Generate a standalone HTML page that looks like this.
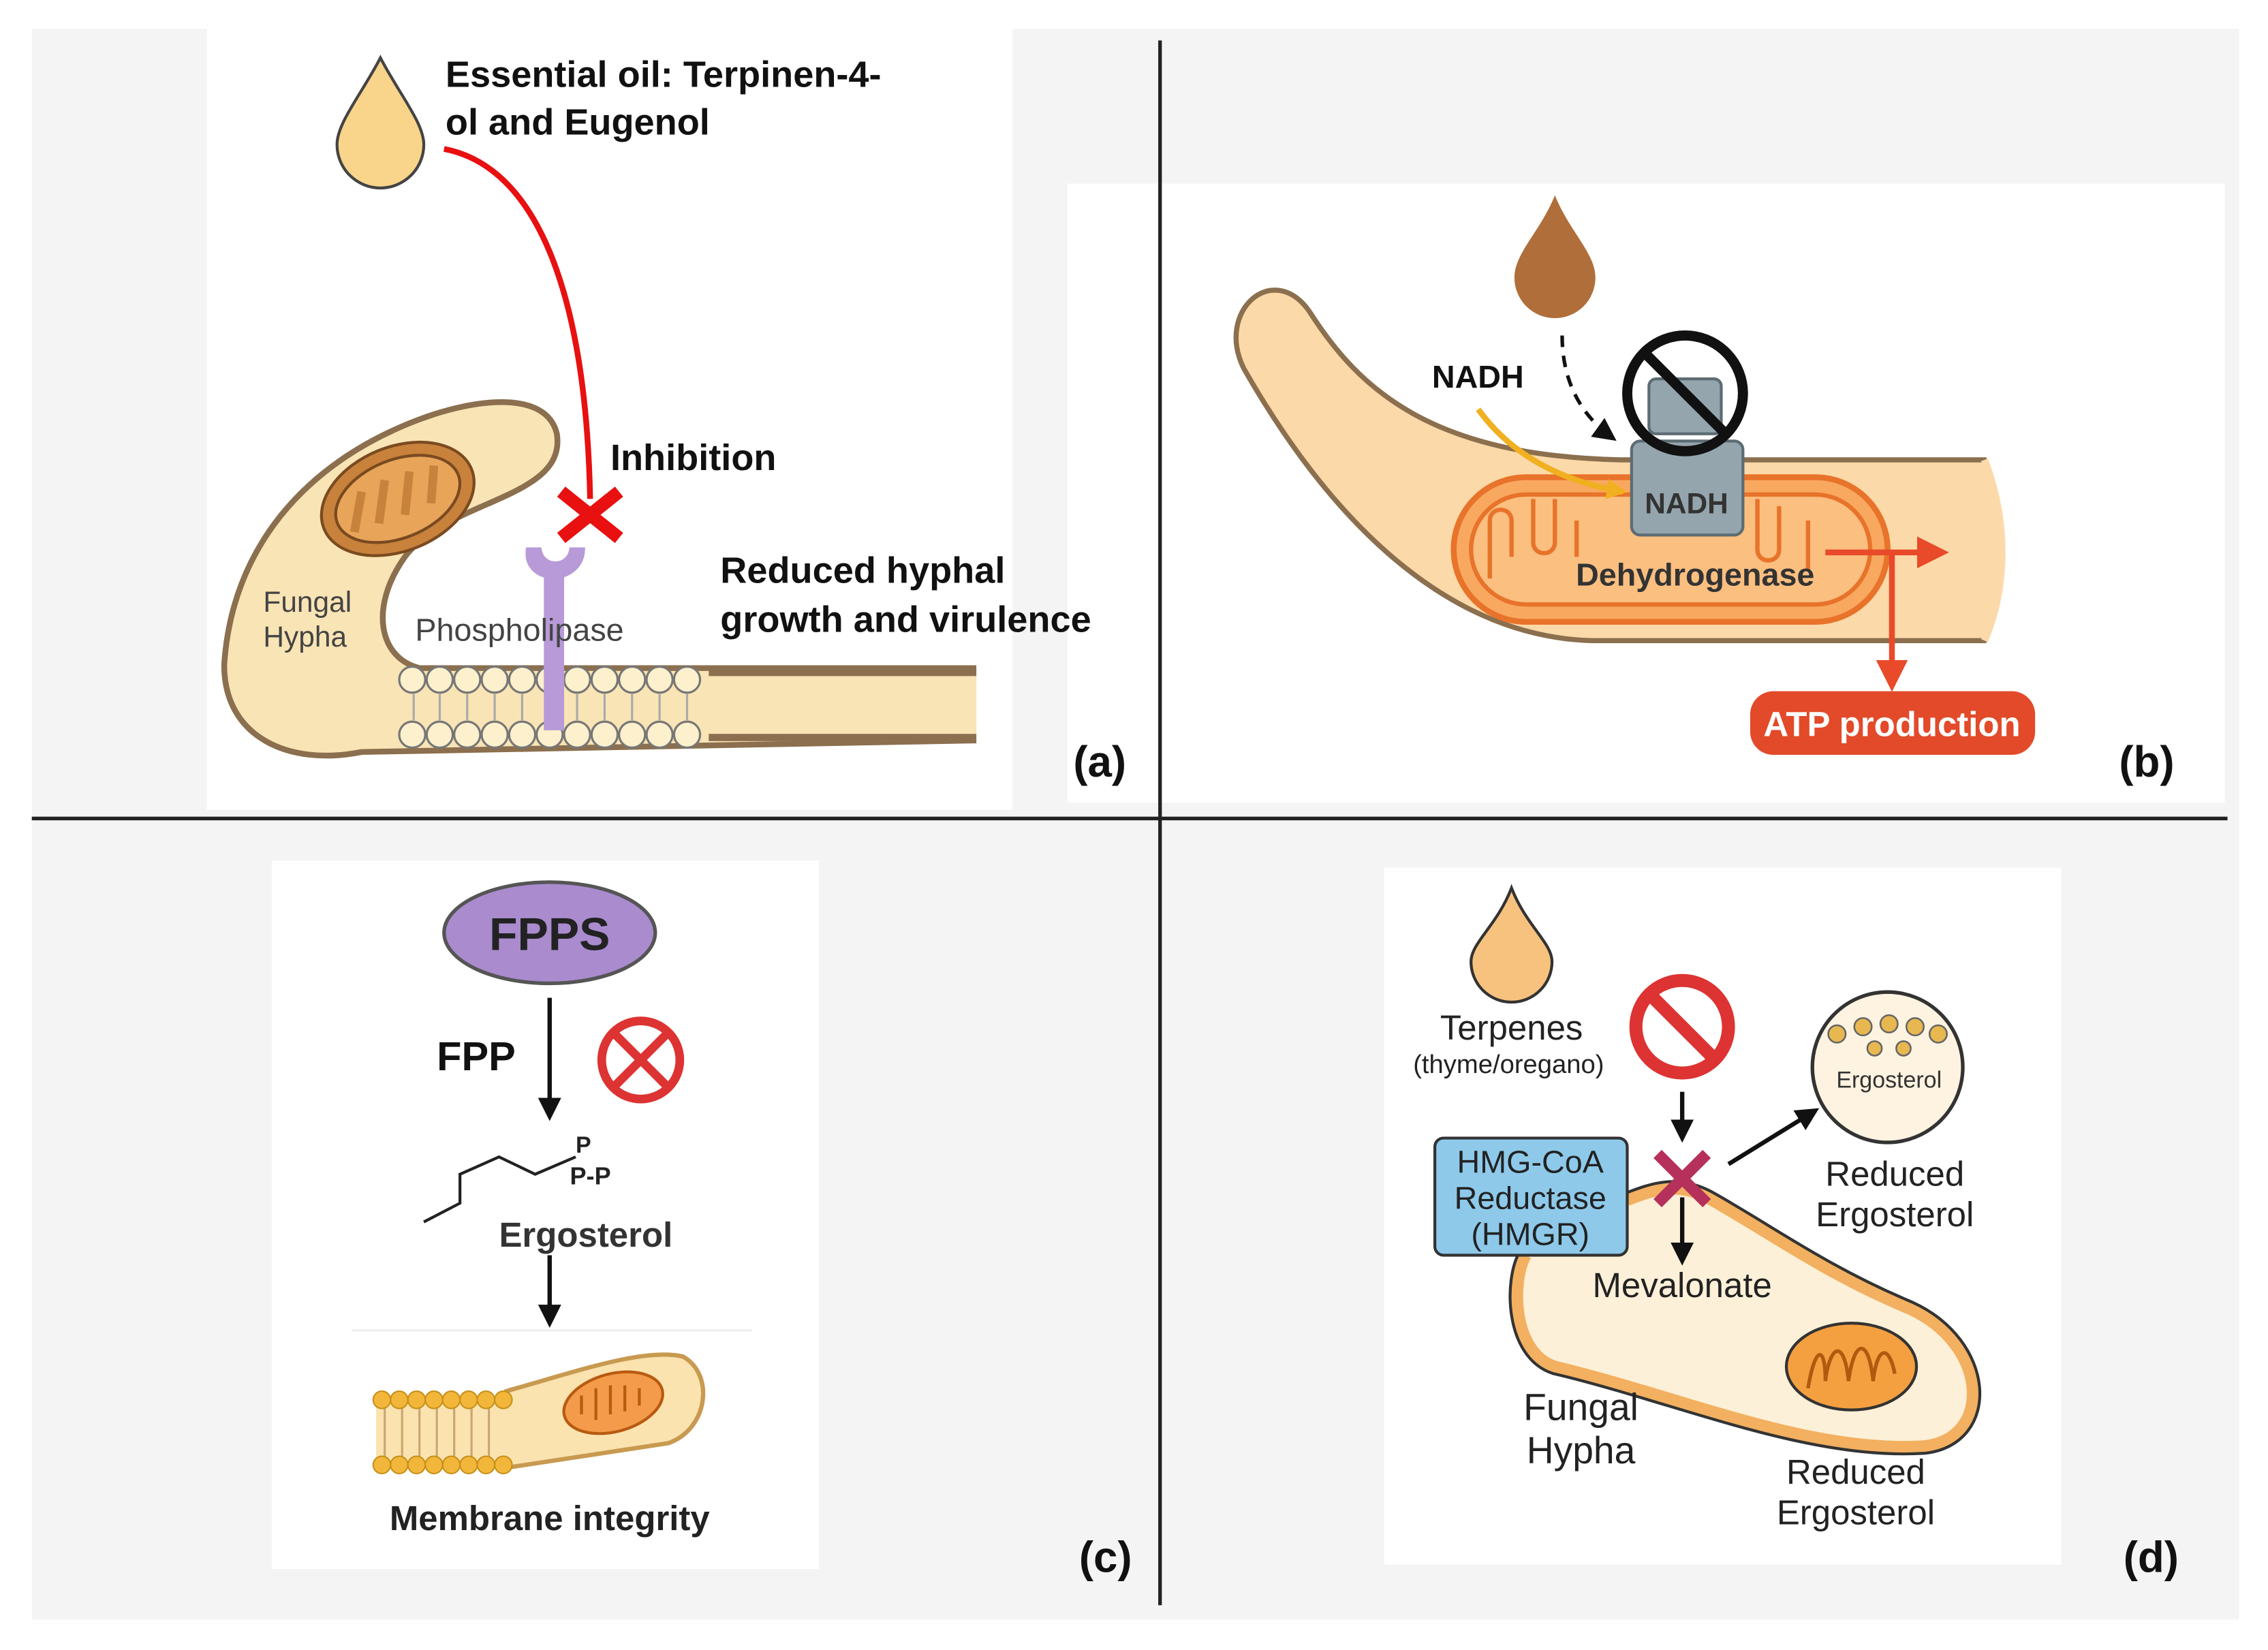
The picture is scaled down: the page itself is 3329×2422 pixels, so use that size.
<!DOCTYPE html>
<html><head><meta charset="utf-8"><style>
html,body{margin:0;padding:0;background:#fff}
svg{display:block}
text{font-family:"Liberation Sans",sans-serif}
</style></head><body>
<svg width="3329" height="2422" viewBox="0 0 1568 1141" preserveAspectRatio="none" xmlns="http://www.w3.org/2000/svg">
<defs>
<marker id="abk" viewBox="0 0 10 10" markerWidth="16" markerHeight="16" refX="8" refY="5" orient="auto" markerUnits="userSpaceOnUse"><path d="M0,0 L10,5 L0,10 Z" fill="#111"/></marker>
<marker id="ay" viewBox="0 0 10 10" markerWidth="14" markerHeight="14" refX="8" refY="5" orient="auto" markerUnits="userSpaceOnUse"><path d="M0,0 L10,5 L0,10 Z" fill="#f0b020"/></marker>
<marker id="ar" viewBox="0 0 10 10" markerWidth="22" markerHeight="22" refX="8" refY="5" orient="auto" markerUnits="userSpaceOnUse"><path d="M0,0 L10,5 L0,10 Z" fill="#e84a2a"/></marker>
</defs>
<rect x="22" y="20" width="1526" height="1100" fill="#f4f4f4"/>
<rect x="143" y="20" width="557" height="540" fill="#fff"/>
<rect x="738" y="127" width="800" height="428" fill="#fff"/>
<rect x="188" y="595" width="378" height="490" fill="#fff"/>
<rect x="957" y="600" width="468" height="482" fill="#fff"/>
<line x1="22" y1="566" x2="1540" y2="566" stroke="#222" stroke-width="2.5"/>
<line x1="802" y1="28" x2="802" y2="1110" stroke="#222" stroke-width="2.5"/>

<!-- Panel a -->
<path d="M263,40 C250,65 233,85 233,100 A30,30 0 0 0 293,100 C293,85 276,65 263,40 Z" fill="#f8d58a" stroke="#444" stroke-width="2"/>
<text x="308" y="60" font-size="25.5" font-weight="bold" fill="#111">Essential oil: Terpinen-4-</text>
<text x="308" y="93" font-size="25.5" font-weight="bold" fill="#111">ol and Eugenol</text>
<path d="M307,103 C370,115 405,200 408,345" fill="none" stroke="#e81010" stroke-width="4"/>
<path d="M388,340 L428,372 M428,340 L388,372" stroke="#e81010" stroke-width="9"/>
<text x="422" y="325" font-size="25.5" font-weight="bold" fill="#111">Inhibition</text>
<path d="M675,462 L290,462 C262,455 255,420 280,385 C310,345 392,345 385,300 C378,270 330,275 290,290 C210,320 160,380 155,460 C155,510 200,530 250,520 L675,512" fill="#f9e4b5" stroke="#8b6f4e" stroke-width="4"/>
<rect x="490" y="466" width="185" height="42" fill="#f9e4b5"/>
<ellipse cx="275" cy="345" rx="55" ry="36" transform="rotate(-22 275 345)" fill="#c8823c" stroke="#7a4a20" stroke-width="2"/>
<ellipse cx="275" cy="345" rx="45" ry="27" transform="rotate(-22 275 345)" fill="#e8a55a" stroke="#7a4a20" stroke-width="2"/>
<path d="M245,368 L250,340 M262,362 L266,332 M280,356 L283,326 M298,348 L300,322" stroke="#c8823c" stroke-width="6"/>
<text x="182" y="423" font-size="20" fill="#444">Fungal</text>
<text x="182" y="447" font-size="20" fill="#444">Hypha</text>
<g fill="#fdf0cc" stroke="#777" stroke-width="1.5">
<g id="row"><circle cx="285" cy="470" r="9"/><circle cx="304" cy="470" r="9"/><circle cx="323" cy="470" r="9"/><circle cx="342" cy="470" r="9"/><circle cx="361" cy="470" r="9"/><circle cx="380" cy="470" r="9"/><circle cx="399" cy="470" r="9"/><circle cx="418" cy="470" r="9"/><circle cx="437" cy="470" r="9"/><circle cx="456" cy="470" r="9"/><circle cx="475" cy="470" r="9"/></g>
<use href="#row" y="38"/>
</g>
<path d="M286,480 V498 M304,480 V498 M323,480 V498 M342,480 V498 M361,480 V498 M399,480 V498 M418,480 V498 M437,480 V498 M456,480 V498 M475,480 V498" stroke="#aaa" stroke-width="1.5"/>
<line x1="490" y1="465" x2="675" y2="465" stroke="#8b6f4e" stroke-width="5"/>
<line x1="490" y1="510" x2="675" y2="510" stroke="#8b6f4e" stroke-width="5"/>
<rect x="376" y="395" width="14" height="110" fill="#b89ad8"/>
<path d="M365,380 C362,405 402,405 403,380 L395,380 C393,393 375,393 373,380 Z" fill="#b89ad8" stroke="#b89ad8" stroke-width="3"/>
<text x="287" y="443" font-size="22" fill="#444">Phospholipase</text>
<text x="498" y="403" font-size="25.5" font-weight="bold" fill="#111">Reduced hyphal</text>
<text x="498" y="437" font-size="25.5" font-weight="bold" fill="#111">growth and virulence</text>
<text x="742" y="537" font-size="30" font-weight="bold" fill="#111">(a)</text>

<!-- Panel b -->
<path d="M905,215 C940,270 990,315 1120,318 L1372,318 C1388,360 1388,405 1372,443 L1100,443 C1000,440 920,360 860,255 C840,215 880,180 905,215 Z" fill="#fcd9a8" stroke="#8b6f4e" stroke-width="3.5"/>
<path d="M1372,318 C1388,360 1388,405 1372,443" fill="none" stroke="#fcd9a8" stroke-width="5"/>
<rect x="1005" y="330" width="300" height="100" rx="50" fill="#f9a860" stroke="#e8732a" stroke-width="4"/>
<rect x="1017" y="342" width="276" height="76" rx="38" fill="#fbbf80" stroke="#e8732a" stroke-width="3"/>
<path d="M1030,400 V360 C1030,350 1045,350 1045,360 V385 M1060,345 V375 C1060,385 1075,385 1075,375 V345 M1090,360 V385 M1215,345 V380 C1215,390 1230,390 1230,380 V350 M1250,360 V395" fill="none" stroke="#e8732a" stroke-width="3"/>
<rect x="1140" y="262" width="50" height="38" rx="5" fill="#95a5ad" stroke="#5c6c72" stroke-width="2"/>
<rect x="1128" y="305" width="77" height="65" rx="6" fill="#95a5ad" stroke="#5c6c72" stroke-width="2"/>
<text x="1166" y="355" font-size="20" font-weight="bold" fill="#333" text-anchor="middle">NADH</text>
<circle cx="1165" cy="272" r="40" fill="none" stroke="#111" stroke-width="7"/>
<line x1="1137" y1="244" x2="1193" y2="300" stroke="#111" stroke-width="7"/>
<path d="M1075,135 C1065,160 1047,175 1047,192 A28,28 0 0 0 1103,192 C1103,175 1085,160 1075,135 Z" fill="#b06e3a"/>
<path d="M1080,232 C1080,260 1090,285 1115,303" fill="none" stroke="#111" stroke-width="2.5" stroke-dasharray="8,6" marker-end="url(#abk)"/>
<text x="990" y="268" font-size="22" font-weight="bold" fill="#111">NADH</text>
<path d="M1022,283 C1045,315 1080,333 1122,340" fill="none" stroke="#f0b020" stroke-width="4" marker-end="url(#ay)"/>
<text x="1172" y="405" font-size="22" font-weight="bold" fill="#333" text-anchor="middle">Dehydrogenase</text>
<line x1="1262" y1="382" x2="1343" y2="382" stroke="#e84a2a" stroke-width="4" marker-end="url(#ar)"/>
<line x1="1308" y1="382" x2="1308" y2="474" stroke="#e84a2a" stroke-width="4" marker-end="url(#ar)"/>
<rect x="1210" y="478" width="197" height="44" rx="16" fill="#e24a2a"/>
<text x="1308" y="509" font-size="24" font-weight="bold" fill="#fff" text-anchor="middle">ATP production</text>
<text x="1465" y="537" font-size="30" font-weight="bold" fill="#111">(b)</text>

<!-- Panel c -->
<ellipse cx="380" cy="645" rx="73" ry="35" fill="#a98bce" stroke="#555" stroke-width="2.5"/>
<text x="380" y="657" font-size="32" font-weight="bold" fill="#222" text-anchor="middle">FPPS</text>
<line x1="380" y1="690" x2="380" y2="772" stroke="#111" stroke-width="3" marker-end="url(#abk)"/>
<text x="302" y="740" font-size="28" font-weight="bold" fill="#111">FPP</text>
<circle cx="443" cy="733" r="27" fill="none" stroke="#d33" stroke-width="6"/>
<path d="M425,715 L461,751 M461,715 L425,751" stroke="#d33" stroke-width="6"/>
<polyline points="293,845 318,832 318,812 345,800 370,812 398,800" fill="none" stroke="#222" stroke-width="2"/>
<text x="398" y="797" font-size="16" font-weight="bold" fill="#222">P</text>
<text x="394" y="819" font-size="17" font-weight="bold" fill="#222">P-P</text>
<text x="345" y="862" font-size="24" font-weight="bold" fill="#333">Ergosterol</text>
<line x1="380" y1="868" x2="380" y2="915" stroke="#111" stroke-width="3" marker-end="url(#abk)"/>
<line x1="243" y1="920" x2="520" y2="920" stroke="#eee" stroke-width="1.5"/>
<path d="M350,962 C400,948 445,932 472,938 C494,950 490,988 462,998 L350,1015 Z" fill="#fbe3b0" stroke="#c89a50" stroke-width="3"/>
<rect x="260" y="968" width="92" height="45" fill="#fbe3b0"/>
<path d="M266,972 V1008 M278,972 V1008 M290,972 V1008 M302,972 V1008 M314,972 V1008 M326,972 V1008 M338,972 V1008" stroke="#c8a870" stroke-width="1.5"/>
<g fill="#f2b73a" stroke="#c8901a" stroke-width="1">
<circle cx="264" cy="968" r="6"/><circle cx="276" cy="968" r="6"/><circle cx="288" cy="968" r="6"/><circle cx="300" cy="968" r="6"/><circle cx="312" cy="968" r="6"/><circle cx="324" cy="968" r="6"/><circle cx="336" cy="968" r="6"/><circle cx="348" cy="968" r="6"/>
<circle cx="264" cy="1013" r="6"/><circle cx="276" cy="1013" r="6"/><circle cx="288" cy="1013" r="6"/><circle cx="300" cy="1013" r="6"/><circle cx="312" cy="1013" r="6"/><circle cx="324" cy="1013" r="6"/><circle cx="336" cy="1013" r="6"/><circle cx="348" cy="1013" r="6"/>
</g>
<ellipse cx="424" cy="970" rx="35" ry="20" transform="rotate(-15 424 970)" fill="#f39b4a" stroke="#b85a10" stroke-width="2"/>
<path d="M402,978 V965 M412,982 V960 M422,978 V958 M432,976 V958 M442,972 V960" stroke="#b85a10" stroke-width="2"/>
<text x="380" y="1058" font-size="24" font-weight="bold" fill="#222" text-anchor="middle">Membrane integrity</text>
<text x="746" y="1087" font-size="30" font-weight="bold" fill="#111">(c)</text>

<!-- Panel d -->
<path d="M1045,614 C1035,640 1017,652 1017,665 A28,28 0 0 0 1073,665 C1073,652 1055,640 1045,614 Z" fill="#f7c27e" stroke="#333" stroke-width="2"/>
<text x="1045" y="719" font-size="24" fill="#222" text-anchor="middle">Terpenes</text>
<text x="1043" y="742" font-size="18" fill="#222" text-anchor="middle">(thyme/oregano)</text>
<circle cx="1163" cy="710" r="32" fill="none" stroke="#d33" stroke-width="9"/>
<line x1="1142" y1="689" x2="1184" y2="731" stroke="#d33" stroke-width="9"/>
<path d="M1125,830 C1145,822 1160,818 1180,828 C1220,850 1260,880 1320,905 C1375,930 1378,995 1330,1000 C1250,1005 1160,965 1075,945 C1045,935 1045,885 1055,868" fill="#fdf0d8" stroke="#333" stroke-width="12"/>
<path d="M1125,830 C1145,822 1160,818 1180,828 C1220,850 1260,880 1320,905 C1375,930 1378,995 1330,1000 C1250,1005 1160,965 1075,945 C1045,935 1045,885 1055,868" fill="#fdf0d8" stroke="#f2b060" stroke-width="8"/>
<ellipse cx="1280" cy="945" rx="45" ry="30" fill="#f5a040" stroke="#333" stroke-width="2"/>
<path d="M1250,960 C1255,930 1262,930 1262,955 C1265,930 1275,925 1278,955 C1282,925 1292,925 1295,955 C1298,930 1306,930 1310,950" fill="none" stroke="#b05a10" stroke-width="2.5"/>
<rect x="992" y="787" width="133" height="81" rx="6" fill="#8ec9ea" stroke="#333" stroke-width="2"/>
<text x="1058" y="811" font-size="22" fill="#222" text-anchor="middle">HMG-CoA</text>
<text x="1058" y="836" font-size="22" fill="#222" text-anchor="middle">Reductase</text>
<text x="1058" y="861" font-size="22" fill="#222" text-anchor="middle">(HMGR)</text>
<line x1="1163" y1="755" x2="1163" y2="787" stroke="#111" stroke-width="3" marker-end="url(#abk)"/>
<line x1="1163" y1="828" x2="1163" y2="872" stroke="#111" stroke-width="3" marker-end="url(#abk)"/>
<path d="M1146,798 L1180,832 M1180,798 L1146,832" stroke="#b5305a" stroke-width="8"/>
<line x1="1195" y1="805" x2="1255" y2="768" stroke="#111" stroke-width="3" marker-end="url(#abk)"/>
<circle cx="1305" cy="738" r="52" fill="#fdf3e0" stroke="#333" stroke-width="2.5"/>
<g fill="#e8b850" stroke="#666" stroke-width="1.2">
<circle cx="1270" cy="715" r="6"/><circle cx="1288" cy="710" r="6"/><circle cx="1306" cy="708" r="6"/><circle cx="1324" cy="710" r="6"/><circle cx="1340" cy="715" r="6"/><circle cx="1296" cy="725" r="5"/><circle cx="1316" cy="725" r="5"/>
</g>
<text x="1306" y="752" font-size="16" fill="#333" text-anchor="middle">Ergosterol</text>
<text x="1310" y="820" font-size="24" fill="#222" text-anchor="middle">Reduced</text>
<text x="1310" y="848" font-size="24" fill="#222" text-anchor="middle">Ergosterol</text>
<text x="1163" y="897" font-size="24" fill="#222" text-anchor="middle">Mevalonate</text>
<text x="1093" y="982" font-size="26" fill="#222" text-anchor="middle">Fungal</text>
<text x="1093" y="1012" font-size="26" fill="#222" text-anchor="middle">Hypha</text>
<text x="1283" y="1026" font-size="24" fill="#222" text-anchor="middle">Reduced</text>
<text x="1283" y="1054" font-size="24" fill="#222" text-anchor="middle">Ergosterol</text>
<text x="1468" y="1087" font-size="30" font-weight="bold" fill="#111">(d)</text>
</svg>
</body></html>
